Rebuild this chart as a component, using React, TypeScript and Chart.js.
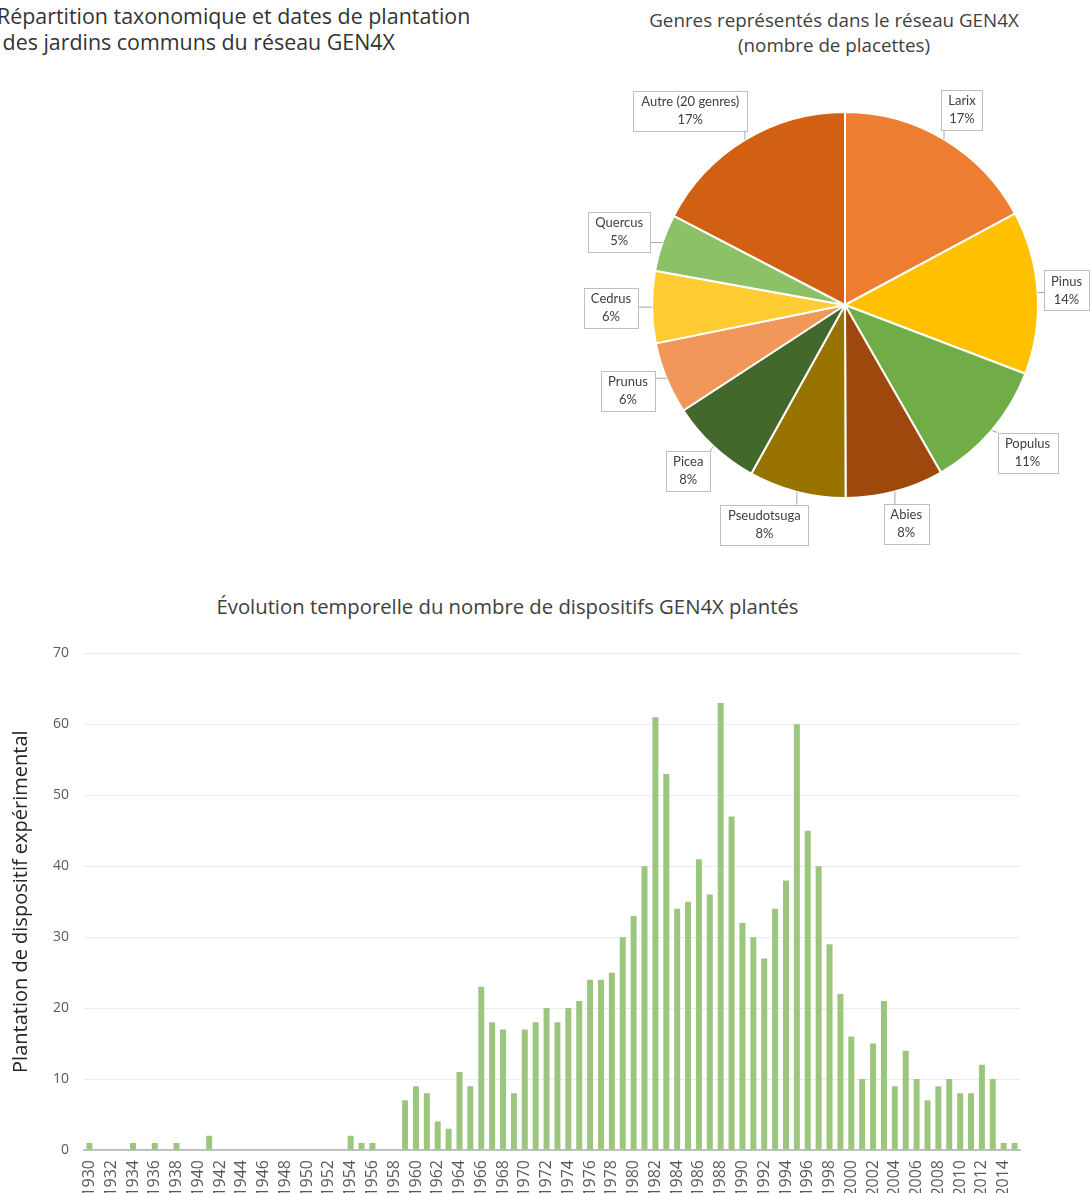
import React, { useEffect, useRef } from 'react';
import { Chart, registerables } from 'chart.js';

Chart.register(...registerables);

// ---- Pie data ----
const genres = ['Larix', 'Pinus', 'Populus', 'Abies', 'Pseudotsuga', 'Picea', 'Prunus', 'Cedrus', 'Quercus', 'Autre (20 genres)'];
const placettes = [171, 136, 109, 82, 81, 77, 60, 60, 48, 173];
const genreColors = ['#ED7D31', '#FFC000', '#70AD47', '#9E480E', '#997300', '#43682B', '#F1975A', '#FFCD33', '#8CC168', '#D26012'];

// ---- Bar data ----
const years = [
  '1930', '1931', '1932', '1933', '1934', '1935', '1936', '1937', '1938', '1939',
  '1940', '1941', '1942', '1943', '1944', '1945', '1946', '1947', '1948', '1949',
  '1950', '1951', '1952', '1953', '1954', '1955', '1956', '1957', '1958', '1959',
  '1960', '1961', '1962', '1963', '1964', '1965', '1966', '1967', '1968', '1969',
  '1970', '1971', '1972', '1973', '1974', '1975', '1976', '1977', '1978', '1979',
  '1980', '1981', '1982', '1983', '1984', '1985', '1986', '1987', '1988', '1989',
  '1990', '1991', '1992', '1993', '1994', '1995', '1996', '1997', '1998', '1999',
  '2000', '2001', '2002', '2003', '2004', '2005', '2006', '2007', '2008', '2009',
  '2010', '2011', '2012', '2013', '2014', '2015',
];
const dispositifs = [
  1, 0, 0, 0, 1, 0, 1, 0, 1, 0,
  0, 2, 0, 0, 0, 0, 0, 0, 0, 0,
  0, 0, 0, 0, 2, 1, 1, 0, 0, 7,
  9, 8, 4, 3, 11, 9, 23, 18, 17, 8,
  17, 18, 20, 18, 20, 21, 24, 24, 25, 30,
  33, 40, 61, 53, 34, 35, 41, 36, 63, 47,
  32, 30, 27, 34, 38, 60, 45, 40, 29, 22,
  16, 10, 15, 21, 9, 14, 10, 7, 9, 10,
  8, 8, 12, 10, 1, 1,
];
const yTicksMax = 70;
const yTicksStep = 10;

const pageTitle = 'Répartition taxonomique et dates de plantation\n des jardins communs du réseau GEN4X';
const pieTitle = ['Genres représentés dans le réseau GEN4X', '(nombre de placettes)'];
const barTitle = 'Évolution temporelle du nombre de dispositifs GEN4X plantés';
const yAxisTitle = 'Plantation de dispositif expérimental';

const LABEL_FONT = 'Lato, "Open Sans", sans-serif';
const TITLE_FONT = '"Open Sans", Lato, sans-serif';

const calloutPlugin = {
  id: 'callouts',
  afterDatasetsDraw(chart: any) {
    const ctx = chart.ctx as CanvasRenderingContext2D;
    const meta = chart.getDatasetMeta(0);
    const data = chart.data.datasets[0].data as number[];
    const total = data.reduce((a, b) => a + b, 0);
    ctx.save();
    ctx.font = '13px ' + LABEL_FONT;
    meta.data.forEach((arc: any, i: number) => {
      const p = arc.getProps(['x', 'y', 'startAngle', 'endAngle', 'outerRadius'], true);
      const mid = (p.startAngle + p.endAngle) / 2;
      const ux = Math.cos(mid);
      const uy = Math.sin(mid);
      const name = String(chart.data.labels[i]);
      const pct = Math.round((data[i] / total) * 100) + '%';
      const tw = Math.max(ctx.measureText(name).width, ctx.measureText(pct).width);
      const w = Math.ceil(tw + 12 + tw * 0.04);
      const h = 40;
      let cx = p.x + ux * (p.outerRadius + 34) + Math.sign(ux) * (w - 40) / 2;
      let cy = p.y + uy * (p.outerRadius + 34);
      cx = Math.min(Math.max(cx, w / 2 + 1), chart.width - w / 2 - 1);
      cy = Math.min(Math.max(cy, h / 2 + 1), chart.height - h / 2 - 1);
      const bx = cx - w / 2;
      const by = cy - h / 2;
      // leader line
      const ax = p.x + ux * p.outerRadius;
      const ay = p.y + uy * p.outerRadius;
      const nx = Math.min(Math.max(ax, bx), bx + w);
      const ny = Math.min(Math.max(ay, by), by + h);
      if (Math.hypot(nx - ax, ny - ay) > 2) {
        ctx.strokeStyle = '#A6A6A6';
        ctx.lineWidth = 1;
        ctx.beginPath();
        ctx.moveTo(ax, ay);
        ctx.lineTo(nx, ny);
        ctx.stroke();
      }
      ctx.fillStyle = '#FFFFFF';
      ctx.fillRect(bx, by, w, h);
      ctx.strokeStyle = '#BFBFBF';
      ctx.lineWidth = 1;
      ctx.strokeRect(Math.round(bx) + 0.5, Math.round(by) + 0.5, Math.round(w), Math.round(h));
      ctx.fillStyle = '#404040';
      ctx.textAlign = 'center';
      ctx.textBaseline = 'middle';
      ctx.fillText(name, cx, by + 11);
      ctx.fillText(pct, cx, by + 29);
    });
    ctx.restore();
  },
};

export default function App() {
  const pieRef = useRef<HTMLCanvasElement>(null);
  const barRef = useRef<HTMLCanvasElement>(null);

  useEffect(() => {
    const pie = new Chart(pieRef.current!, {
      type: 'pie',
      data: {
        labels: genres,
        datasets: [{ data: placettes, backgroundColor: genreColors, borderColor: '#FFFFFF', borderWidth: 2 }],
      },
      options: {
        animation: false,
        responsive: true,
        maintainAspectRatio: false,
        layout: { padding: { top: 111, bottom: 61, left: 55, right: 25 } },
        plugins: { legend: { display: false }, tooltip: { enabled: false } },
      },
      plugins: [calloutPlugin],
    });

    const bar = new Chart(barRef.current!, {
      type: 'bar',
      data: {
        labels: years,
        datasets: [{ data: dispositifs, backgroundColor: '#9CC67E', barPercentage: 0.55, categoryPercentage: 1 }],
      },
      options: {
        animation: false,
        responsive: true,
        maintainAspectRatio: false,
        layout: { padding: { top: 21, right: 70, left: 0, bottom: 0 } },
        plugins: { legend: { display: false }, tooltip: { enabled: false } },
        scales: {
          x: {
            grid: { display: false, drawTicks: false },
            border: { display: true, color: '#BFBFBF', width: 2 },
            ticks: {
              autoSkip: false,
              minRotation: 90,
              maxRotation: 90,
              padding: 10,
              color: '#595959',
              font: { size: 16, family: '"Open Sans", sans-serif' },
              callback: function (this: any, v: any, i: number) {
                return i % 2 === 0 ? this.getLabelForValue(v) : '';
              },
            },
            afterFit: (s: any) => {
              s.height = 80;
            },
          },
          y: {
            min: 0,
            max: yTicksMax,
            ticks: { stepSize: yTicksStep, padding: 15, color: '#595959', font: { size: 14, family: '"Open Sans", sans-serif' } },
            grid: { color: '#EBEBEB', drawTicks: false },
            border: { display: false },
            title: {
              display: true,
              text: yAxisTitle,
              color: '#262626',
              font: { size: 20, family: TITLE_FONT },
              padding: { top: 9, bottom: 0 },
            },
            afterFit: (s: any) => {
              s.width = 84;
            },
          },
        },
      },
    });

    return () => {
      pie.destroy();
      bar.destroy();
    };
  }, []);

  return (
    <div style={{ position: 'absolute', left: 0, top: 0, width: 1090, height: 1193, overflow: 'hidden', background: '#FFFFFF', fontFamily: TITLE_FONT }}>
      <div style={{ position: 'absolute', left: -3, top: 3, fontSize: 21.4, lineHeight: '26px', color: '#333333', whiteSpace: 'pre' }}>{pageTitle}</div>
      <div style={{ position: 'absolute', left: 580, top: 8, width: 508, textAlign: 'center', fontSize: 18.8, lineHeight: '25px', color: '#404040' }}>
        {pieTitle[0]}
        <br />
        {pieTitle[1]}
      </div>
      <div style={{ position: 'absolute', left: 570, top: 0, width: 520, height: 560 }}>
        <canvas ref={pieRef} />
      </div>
      <div style={{ position: 'absolute', left: 0, top: 592, width: 1015, textAlign: 'center', fontSize: 20.3, lineHeight: '28px', color: '#404040' }}>{barTitle}</div>
      <div style={{ position: 'absolute', left: 0, top: 630, width: 1090, height: 600 }}>
        <canvas ref={barRef} />
      </div>
    </div>
  );
}
